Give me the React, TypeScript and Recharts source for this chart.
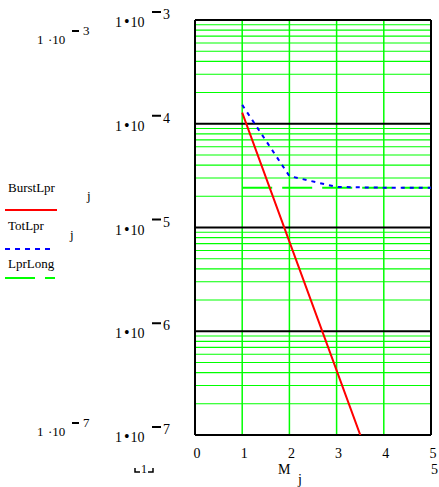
import { LineChart, Line, XAxis, YAxis, ReferenceLine } from "recharts";

// M_j sample points and the three series
const mValues = [1, 2, 3, 4, 5];
const burstLpr = [1.28e-4, 7.3e-6, 4.2e-7, 2.4e-8, 1.4e-9];
const totLpr = [1.52e-4, 3.13e-5, 2.46e-5, 2.42e-5, 2.42e-5];
const lprLong = [2.42e-5, 2.42e-5, 2.42e-5, 2.42e-5, 2.42e-5];

const xTicks = [0, 1, 2, 3, 4, 5];
const decadeTicks = [1e-7, 1e-6, 1e-5, 1e-4, 1e-3];
const decadeExps = ["7", "6", "5", "4", "3"];
const minorMult = [2, 3, 4, 5, 6, 7, 8, 9];
const xGrid = [1, 2, 3, 4];

const data = mValues.map((m, i) => ({
  m,
  burst: burstLpr[i],
  tot: totLpr[i],
  long: lprLong[i],
}));

const minorLines: number[] = [];
decadeTicks.slice(0, 4).forEach((d) => minorMult.forEach((k) => minorLines.push(d * k)));

const GREEN = "#00ff00";
const serif = { fontFamily: "Liberation Serif" };

const YTick = (props: any) => {
  const { y, index } = props;
  return (
    <g>
      <text x={115} y={y + 7} fontSize={14} fill="#000" style={serif}>
        1<tspan dx={2} fontSize={16}>•</tspan>
        <tspan dx={1}>10</tspan>
      </text>
      <line x1={152} y1={y - 8} x2={161} y2={y - 8} stroke="#000" strokeWidth={2} />
      <text x={163} y={y - 1} fontSize={14} fill="#000" style={serif}>
        {decadeExps[index]}
      </text>
    </g>
  );
};

const XTick = (props: any) => {
  const { x, payload } = props;
  return (
    <text x={x + 2} y={458} textAnchor="middle" fontSize={14} fill="#000" style={serif}>
      {payload.value}
    </text>
  );
};

const Overlay = () => (
  <svg
    width={439}
    height={487}
    style={{ position: "absolute", left: 0, top: 0, pointerEvents: "none" }}
  >
    <g style={serif} fill="#000">
      <text x={37} y={44} fontSize={13}>1</text>
      <text x={48} y={44} fontSize={13}>·10</text>
      <text x={83} y={35} fontSize={13}>3</text>
      <text x={37} y={436} fontSize={13}>1</text>
      <text x={48} y={436} fontSize={13}>·10</text>
      <text x={83} y={427} fontSize={13}>7</text>

      <text x={8} y={192} fontSize={13}>BurstLpr</text>
      <text x={87} y={200} fontSize={13}>j</text>
      <text x={8} y={230} fontSize={13}>TotLpr</text>
      <text x={70} y={239} fontSize={13}>j</text>
      <text x={8} y={268} fontSize={13}>LprLong</text>

      <text x={278} y={474} fontSize={14}>M</text>
      <text x={298} y={484} fontSize={14}>j</text>
      <text x={431} y={474} fontSize={14}>5</text>
      <text x={141} y={473} fontSize={12}>1</text>
    </g>
    <line x1={72} y1={31} x2={79} y2={31} stroke="#000" strokeWidth={2} />
    <line x1={72} y1={423} x2={79} y2={423} stroke="#000" strokeWidth={2} />
    <path d="M135 468 V472 H140 M153 468 V472 H148" stroke="#000" strokeWidth={1.5} fill="none" />
    <line x1={5} y1={210} x2={57} y2={210} stroke="#ff0000" strokeWidth={2} />
    <line x1={5} y1={249} x2={52} y2={249} stroke="#0000ff" strokeWidth={2} strokeDasharray="5 5" />
    <line x1={5} y1={278} x2={35} y2={278} stroke={GREEN} strokeWidth={2} />
    <line x1={45} y1={278} x2={55} y2={278} stroke={GREEN} strokeWidth={2} />
  </svg>
);

export default function App() {
  return (
    <div style={{ position: "absolute", left: 0, top: 0, width: 439, height: 487, background: "#fff" }}>
      <LineChart width={439} height={487} data={data} margin={{ top: 20, right: 8, bottom: 22, left: 0 }}>
        <XAxis
          dataKey="m"
          type="number"
          domain={[0, 5]}
          ticks={xTicks}
          tick={<XTick />}
          tickLine={false}
          axisLine={false}
          height={30}
        />
        <YAxis
          type="number"
          scale="log"
          domain={[1e-7, 1e-3]}
          allowDataOverflow
          ticks={decadeTicks}
          tick={<YTick />}
          tickLine={false}
          axisLine={false}
          width={195}
        />
        {minorLines.map((v) => (
          <ReferenceLine key={"h" + v} y={v} stroke={GREEN} strokeWidth={1.2} />
        ))}
        {xGrid.map((v) => (
          <ReferenceLine key={"v" + v} x={v} stroke={GREEN} strokeWidth={1.5} />
        ))}
        {decadeTicks.map((v) => (
          <ReferenceLine key={"d" + v} y={v} stroke="#000" strokeWidth={2} />
        ))}
        <ReferenceLine x={0} stroke="#000" strokeWidth={2} />
        <ReferenceLine x={5} stroke="#000" strokeWidth={2} />
        <Line
          dataKey="long"
          stroke={GREEN}
          strokeWidth={2}
          strokeDasharray="30 10"
          dot={false}
          isAnimationActive={false}
        />
        <Line dataKey="burst" stroke="#ff0000" strokeWidth={2} dot={false} isAnimationActive={false} />
        <Line
          dataKey="tot"
          stroke="#0000ff"
          strokeWidth={2}
          strokeDasharray="4 5"
          dot={false}
          isAnimationActive={false}
        />
      </LineChart>
      <Overlay />
    </div>
  );
}
